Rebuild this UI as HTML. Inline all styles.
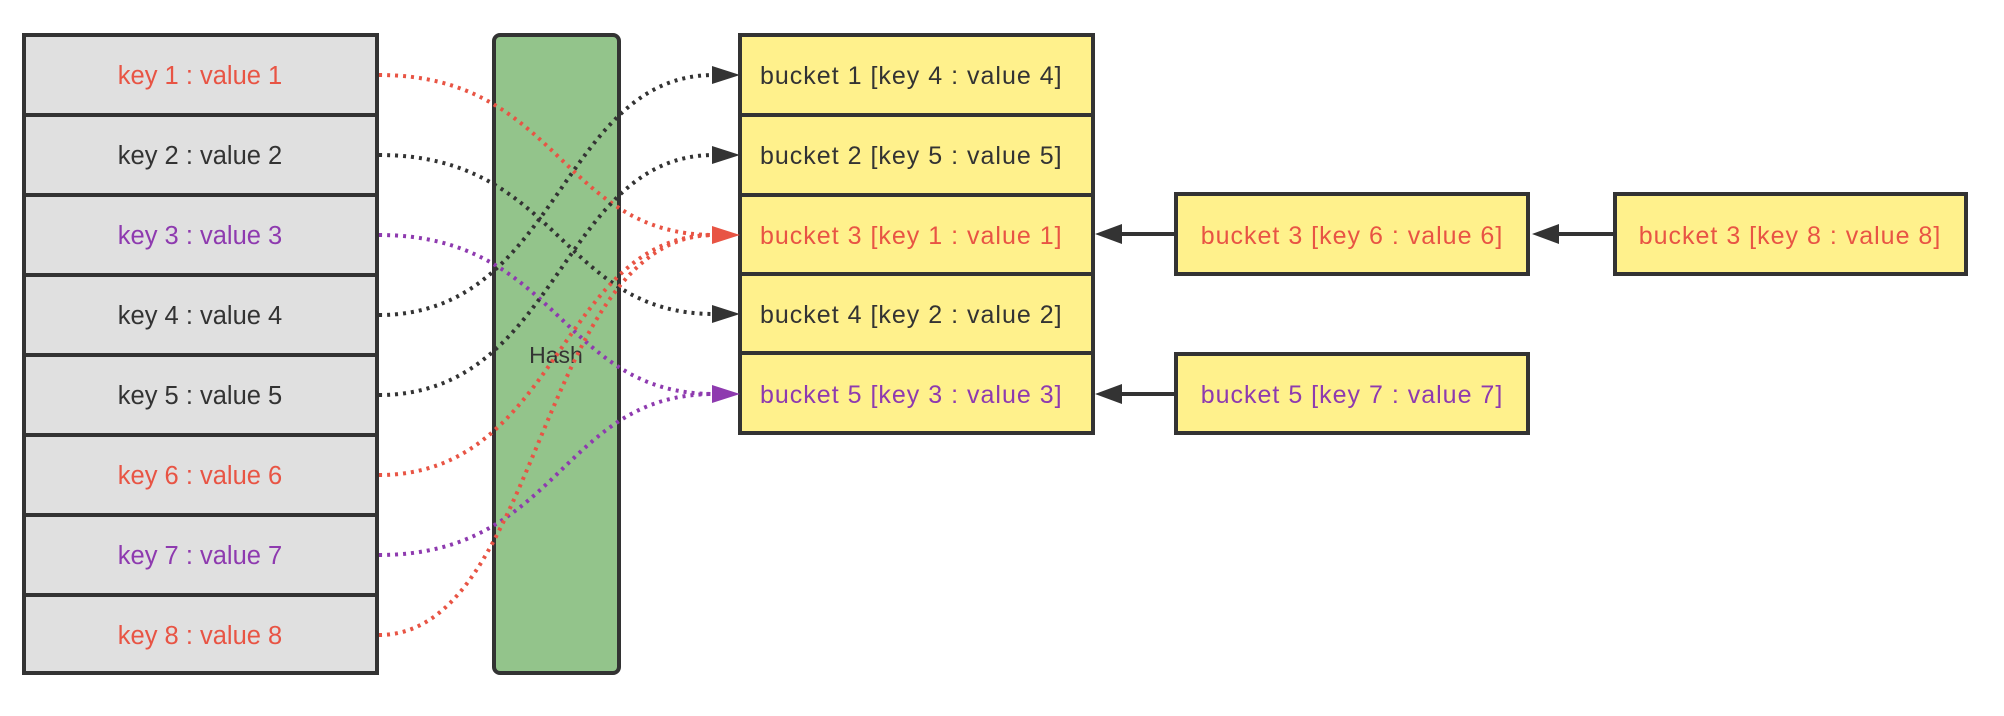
<!DOCTYPE html>
<html><head><meta charset="utf-8"><style>
html,body{margin:0;padding:0;background:#fff;}
svg{display:block;}
text{font-family:"Liberation Sans",sans-serif;font-size:25.5px;}
.b{letter-spacing:1px;font-size:25px;}
</style></head><body>
<svg width="2004" height="716" viewBox="0 0 2004 716" xmlns="http://www.w3.org/2000/svg">
<!-- left boxes -->
<g stroke="#333" stroke-width="4" fill="#e0e0e0">
<rect x="24" y="35" width="353" height="80"/>
<rect x="24" y="115" width="353" height="80"/>
<rect x="24" y="195" width="353" height="80"/>
<rect x="24" y="275" width="353" height="80"/>
<rect x="24" y="355" width="353" height="80"/>
<rect x="24" y="435" width="353" height="80"/>
<rect x="24" y="515" width="353" height="80"/>
<rect x="24" y="595" width="353" height="78"/>
</g>
<g text-anchor="middle">
<text x="200" y="84" fill="#e85444">key 1 : value 1</text>
<text x="200" y="164" fill="#333">key 2 : value 2</text>
<text x="200" y="244" fill="#8e3aaf">key 3 : value 3</text>
<text x="200" y="324" fill="#333">key 4 : value 4</text>
<text x="200" y="404" fill="#333">key 5 : value 5</text>
<text x="200" y="484" fill="#e85444">key 6 : value 6</text>
<text x="200" y="564" fill="#8e3aaf">key 7 : value 7</text>
<text x="200" y="644" fill="#e85444">key 8 : value 8</text>
</g>
<!-- hash -->
<rect x="494" y="35" width="125" height="638" rx="6" fill="#93c48b" stroke="#333" stroke-width="4"/>
<text x="556" y="363" text-anchor="middle" fill="#333" style="font-size:23px">Hash</text>
<!-- buckets -->
<g stroke="#333" stroke-width="4" fill="#fff18c">
<rect x="740" y="35" width="353" height="80"/>
<rect x="740" y="115" width="353" height="80"/>
<rect x="740" y="195" width="353" height="79"/>
<rect x="740" y="274" width="353" height="79"/>
<rect x="740" y="353" width="353" height="80"/>
<rect x="1176" y="194" width="352" height="80"/>
<rect x="1615" y="194" width="351" height="80"/>
<rect x="1176" y="354" width="352" height="79"/>
</g>
<g class="b">
<text class="b" x="760" y="84" fill="#333">bucket 1 [key 4 : value 4]</text>
<text class="b" x="760" y="164" fill="#333">bucket 2 [key 5 : value 5]</text>
<text class="b" x="760" y="244" fill="#e85444">bucket 3 [key 1 : value 1]</text>
<text class="b" x="760" y="323" fill="#333">bucket 4 [key 2 : value 2]</text>
<text class="b" x="760" y="403" fill="#8e3aaf">bucket 5 [key 3 : value 3]</text>
<text class="b" x="1352" y="244" fill="#e85444" text-anchor="middle">bucket 3 [key 6 : value 6]</text>
<text class="b" x="1790" y="244" fill="#e85444" text-anchor="middle">bucket 3 [key 8 : value 8]</text>
<text class="b" x="1352" y="403" fill="#8e3aaf" text-anchor="middle">bucket 5 [key 7 : value 7]</text>
</g>
<!-- chain arrows -->
<g stroke="#333" stroke-width="4" fill="#333">
<line x1="1174" y1="234" x2="1115" y2="234"/>
<path d="M1095,234 L1122,224 L1122,244 Z" stroke="none"/>
<line x1="1613" y1="234" x2="1552" y2="234"/>
<path d="M1532,234 L1559,224 L1559,244 Z" stroke="none"/>
<line x1="1174" y1="394" x2="1115" y2="394"/>
<path d="M1095,394 L1122,384 L1122,404 Z" stroke="none"/>
</g>
<!-- connectors -->
<g fill="none" stroke-width="4" stroke-dasharray="3 5">
<path d="M379,75 C560,75 560,235 714,235" stroke="#e85444"/>
<path d="M379,155 C560,155 560,314 714,314" stroke="#333"/>
<path d="M379,235 C560,235 560,394 714,394" stroke="#8e3aaf"/>
<path d="M379,315 C560,315 560,75 714,75" stroke="#333"/>
<path d="M379,395 C560,395 560,155 714,155" stroke="#333"/>
<path d="M379,475 C560,475 560,235 714,235" stroke="#e85444"/>
<path d="M379,555 C560,555 560,394 714,394" stroke="#8e3aaf"/>
<path d="M379,635 C540,635 540,235 714,235" stroke="#e85444"/>
</g>
<g>
<path d="M740,75 L712,66 L712,84 Z" fill="#333"/>
<path d="M740,155 L712,146 L712,164 Z" fill="#333"/>
<path d="M740,235 L712,226 L712,244 Z" fill="#e85444"/>
<path d="M740,314 L712,305 L712,323 Z" fill="#333"/>
<path d="M740,394 L712,385 L712,403 Z" fill="#8e3aaf"/>
</g>
</svg>
</body></html>
